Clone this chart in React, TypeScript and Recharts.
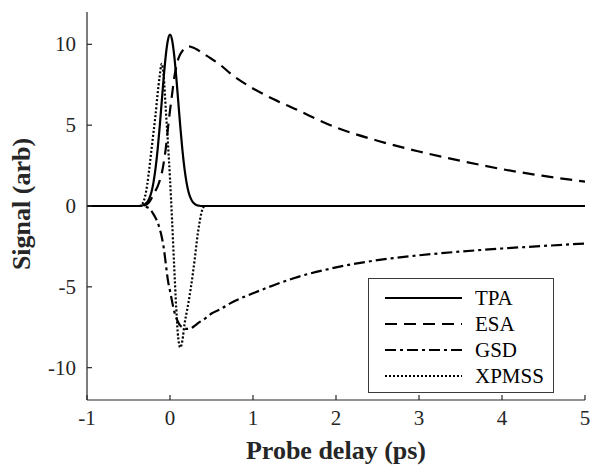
import React from 'react';
import { LineChart, Line, XAxis, YAxis, Label } from 'recharts';

const delays = [-1, -0.5, -0.4, -0.375, -0.35, -0.325, -0.3, -0.275, -0.25, -0.225, -0.2, -0.175, -0.15, -0.125, -0.1, -0.075, -0.05, -0.025, 0, 0.025, 0.05, 0.075, 0.1, 0.125, 0.15, 0.175, 0.2, 0.225, 0.25, 0.275, 0.3, 0.325, 0.35, 0.375, 0.4, 0.425, 0.45, 0.5, 0.6, 0.75, 1, 1.25, 1.5, 2, 2.5, 3, 3.5, 4, 4.5, 5];
const tpa = [0, 0, 0, 0, 0.02, 0.05, 0.12, 0.24, 0.47, 0.84, 1.43, 2.29, 3.44, 4.85, 6.43, 8.0, 9.35, 10.27, 10.6, 10.27, 9.35, 8.0, 6.43, 4.85, 3.44, 2.29, 1.43, 0.84, 0.47, 0.24, 0.12, 0.05, 0.02, 0, 0, 0, 0, 0, 0, 0, 0, 0, 0, 0, 0, 0, 0, 0, 0, 0];
const esa = [0, 0, 0, 0, 0, 0.02, 0.05, 0.12, 0.25, 0.45, 0.7, 0.95, 1.2, 1.55, 2.0, 2.7, 3.6, 4.8, 5.9, 6.9, 7.9, 8.6, 9.1, 9.4, 9.6, 9.75, 9.85, 9.87, 9.85, 9.8, 9.75, 9.68, 9.6, 9.52, 9.45, 9.35, 9.27, 9.1, 8.75, 8.1, 7.27, 6.6, 6.02, 4.86, 4.04, 3.37, 2.8, 2.28, 1.86, 1.51];
const gsd = [0, 0, 0, 0, 0, 0, -0.02, -0.08, -0.15, -0.3, -0.5, -0.72, -1.0, -1.4, -1.9, -2.6, -3.6, -4.6, -5.25, -5.9, -6.5, -6.9, -7.2, -7.4, -7.5, -7.57, -7.6, -7.6, -7.57, -7.5, -7.4, -7.3, -7.2, -7.12, -7.05, -6.95, -6.85, -6.65, -6.4, -5.95, -5.4, -4.9, -4.45, -3.8, -3.35, -3.05, -2.82, -2.63, -2.47, -2.32];
const xpmss = [0, 0, 0, 0, 0.05, 0.2, 0.6, 1.3, 2.3, 3.4, 4.5, 5.6, 6.9, 8.0, 8.8, 8.0, 5.9, 3.9, 1.7, -0.9, -3.7, -6.3, -8.2, -8.75, -8.3, -7.3, -6.6, -5.9, -5.1, -4.2, -3.2, -2.1, -1.2, -0.5, -0.1, 0, 0, 0, 0, 0, 0, 0, 0, 0, 0, 0, 0, 0, 0, 0];

const xTicks = [-1, 0, 1, 2, 3, 4, 5];
const yTicks = [-10, -5, 0, 5, 10];
const seriesNames = ['TPA', 'ESA', 'GSD', 'XPMSS'];

const data = delays.map((t, i) => ({ t, TPA: tpa[i], ESA: esa[i], GSD: gsd[i], XPMSS: xpmss[i] }));

const FONT = '"Liberation Serif", "Times New Roman", serif';
const AXIS_COLOR = '#262626';
const dashes: Record<string, string | undefined> = {
  TPA: undefined,
  ESA: '12 7',
  GSD: '11 4 3 4',
  XPMSS: '2 2',
};

const XTick = (props: any) => {
  const { x, y, payload } = props;
  return (
    <g>
      <line x1={x} y1={y} x2={x} y2={y - 5} stroke={AXIS_COLOR} strokeWidth={1.2} />
      <text x={x} y={y + 25} textAnchor="middle" style={{ fontFamily: FONT, fontSize: 21 }} fill="#262626">
        {payload.value}
      </text>
    </g>
  );
};

const YTick = (props: any) => {
  const { x, y, payload } = props;
  return (
    <g>
      <line x1={x} y1={y} x2={x + 5} y2={y} stroke={AXIS_COLOR} strokeWidth={1.2} />
      <text x={x - 11} y={y + 7} textAnchor="end" style={{ fontFamily: FONT, fontSize: 21 }} fill="#262626">
        {payload.value}
      </text>
    </g>
  );
};

const LegendBox = () => (
  <div
    style={{
      position: 'absolute',
      left: 368,
      top: 278,
      width: 186,
      height: 115,
      border: '1.3px solid #3a3a3a',
      background: '#fff',
      boxSizing: 'border-box',
    }}
  >
    <svg width={184} height={113} style={{ display: 'block' }}>
      {seriesNames.map((name, i) => {
        const cy = 19 + i * 26;
        return (
          <g key={name}>
            <line x1={16} y1={cy} x2={93} y2={cy} stroke="#000" strokeWidth={2.2} strokeDasharray={dashes[name]} />
            <text x={106} y={cy + 7} style={{ fontFamily: FONT, fontSize: 21 }} fill="#000">
              {name}
            </text>
          </g>
        );
      })}
    </svg>
  </div>
);

export default function App() {
  return (
    <div style={{ position: 'absolute', left: 0, top: 0, width: 593, height: 466, background: '#fff' }}>
      <LineChart width={593} height={466} data={data} margin={{ top: 12, right: 8, left: 0, bottom: 0 }}>
        <XAxis
          dataKey="t"
          type="number"
          domain={[-1, 5]}
          ticks={xTicks}
          tickSize={0}
          tickMargin={0}
          tickLine={false}
          tick={<XTick />}
          height={66}
          axisLine={{ stroke: AXIS_COLOR, strokeWidth: 1.2 }}
          allowDataOverflow
        >
          <Label
            content={() => (
              <text x={336} y={459} textAnchor="middle" style={{ fontFamily: FONT, fontSize: 26, fontWeight: 'bold' }} fill="#262626">
                Probe delay (ps)
              </text>
            )}
          />
        </XAxis>
        <YAxis
          type="number"
          domain={[-12, 12]}
          ticks={yTicks}
          tickSize={0}
          tickMargin={0}
          tickLine={false}
          tick={<YTick />}
          width={87}
          axisLine={{ stroke: AXIS_COLOR, strokeWidth: 1.2 }}
          allowDataOverflow
        >
          <Label
            content={() => (
              <text
                x={30}
                y={204}
                textAnchor="middle"
                transform="rotate(-90, 30, 204)"
                style={{ fontFamily: FONT, fontSize: 26, fontWeight: 'bold' }}
                fill="#262626"
              >
                Signal (arb)
              </text>
            )}
          />
        </YAxis>
        <Line type="monotone" dataKey="TPA" stroke="#000" strokeWidth={2.2} dot={false} isAnimationActive={false} />
        <Line type="monotone" dataKey="ESA" stroke="#000" strokeWidth={2.2} strokeDasharray={dashes.ESA} dot={false} isAnimationActive={false} />
        <Line type="monotone" dataKey="GSD" stroke="#000" strokeWidth={2.2} strokeDasharray={dashes.GSD} dot={false} isAnimationActive={false} />
        <Line type="monotone" dataKey="XPMSS" stroke="#000" strokeWidth={2.2} strokeDasharray={dashes.XPMSS} dot={false} isAnimationActive={false} />
      </LineChart>
      <LegendBox />
    </div>
  );
}
